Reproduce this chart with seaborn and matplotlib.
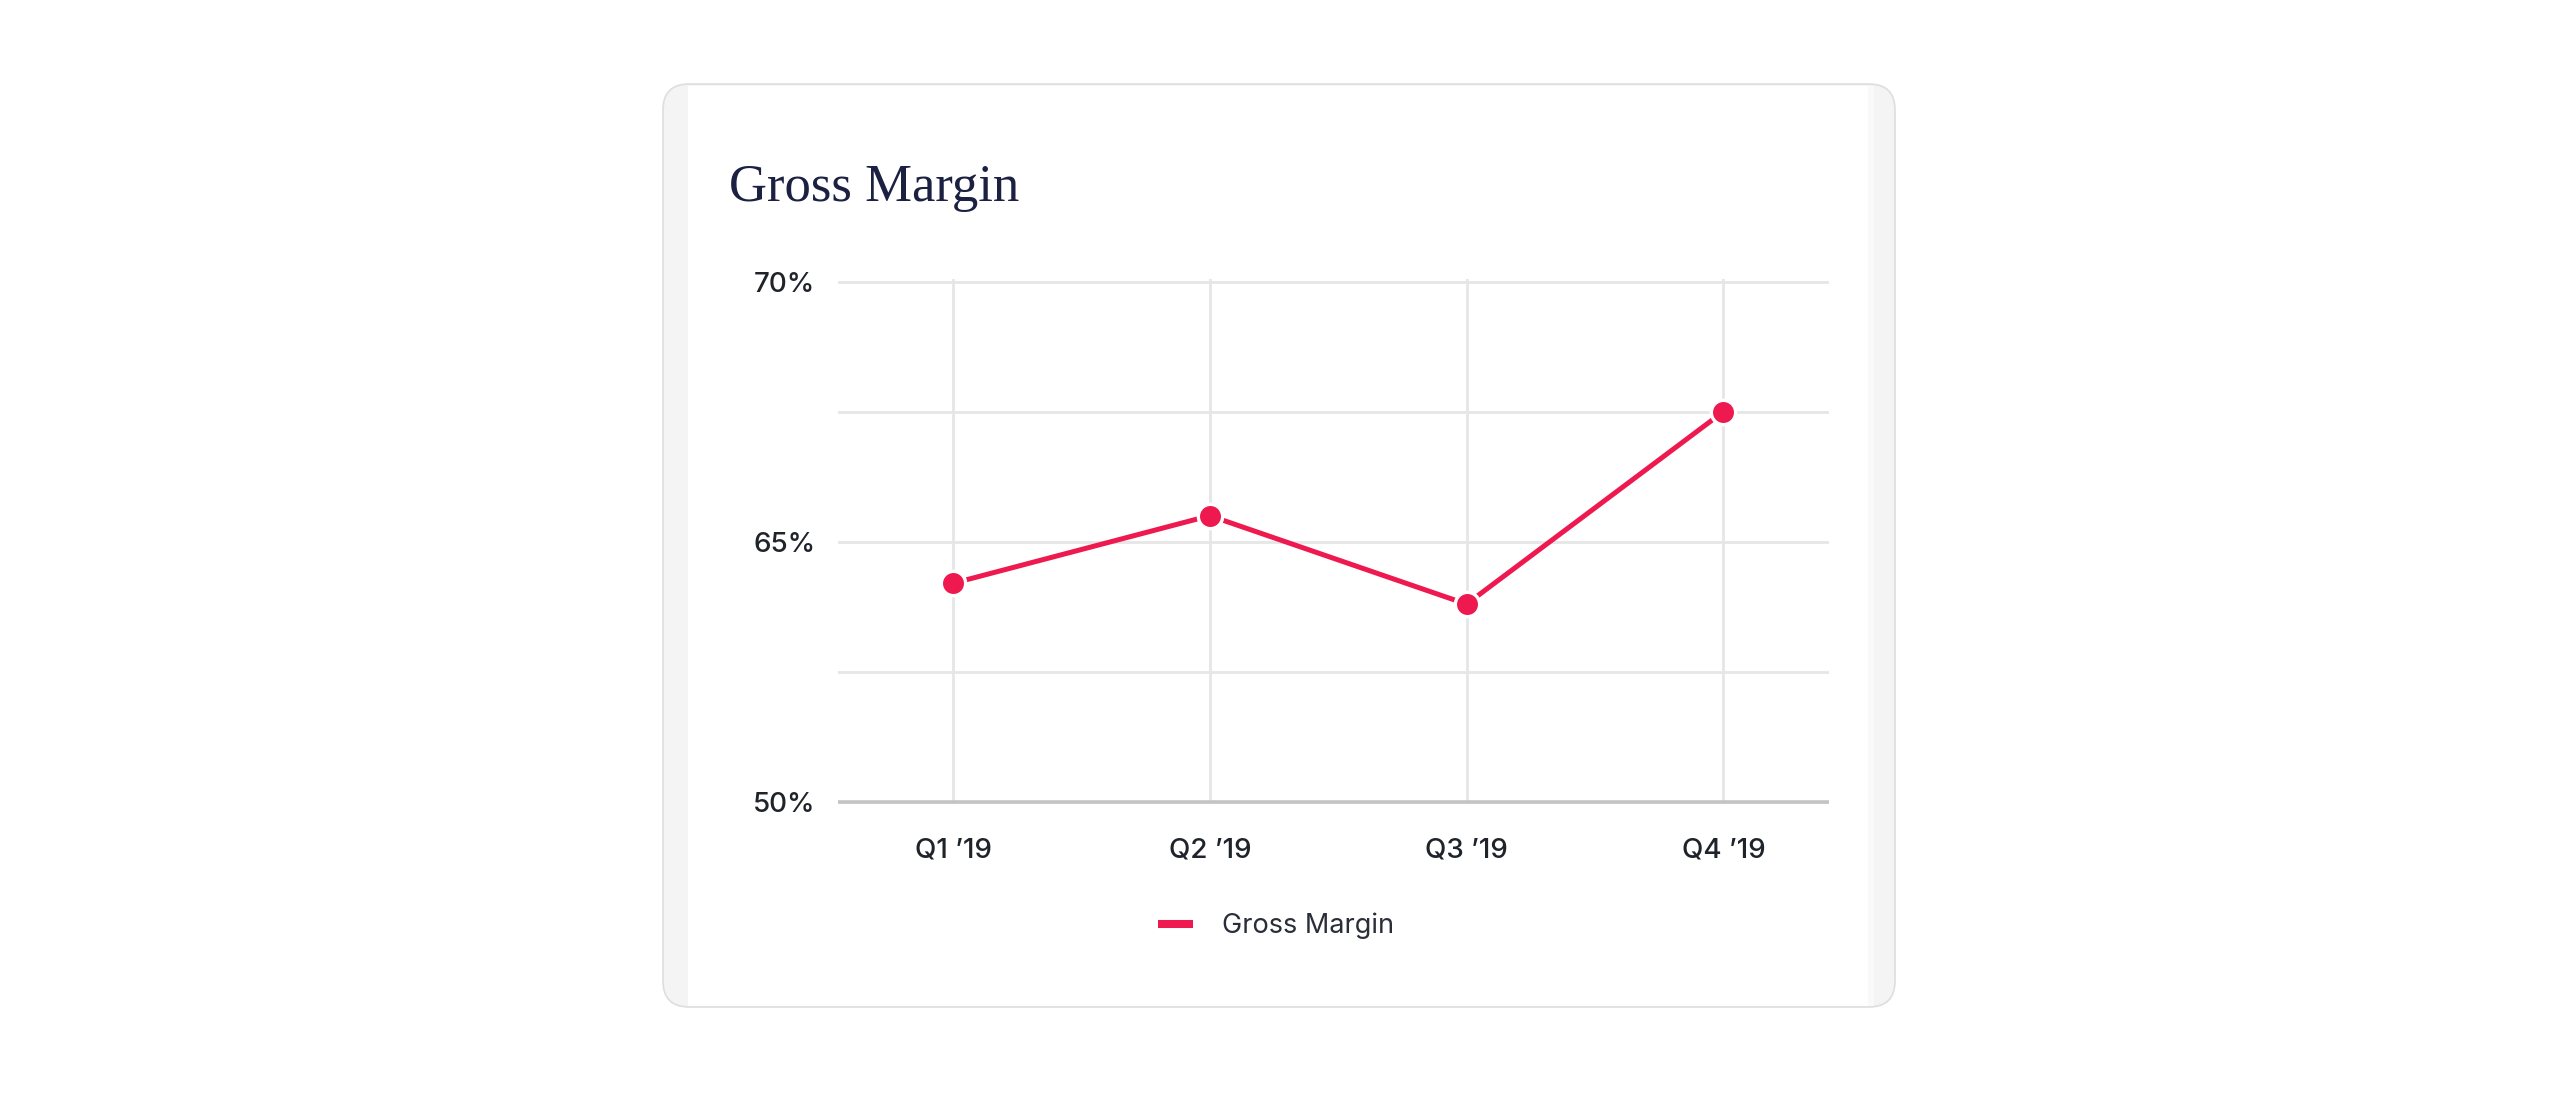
import matplotlib
matplotlib.use("Agg")
import matplotlib.pyplot as plt
from matplotlib.patches import FancyBboxPatch, Rectangle
from matplotlib.lines import Line2D
import seaborn as sns
import pandas as pd

# ---------------- data ----------------
quarters = ["Q1 \u201919", "Q2 \u201919", "Q3 \u201919", "Q4 \u201919"]
gross_margin = [64.2, 65.5, 63.8, 67.5]
y_ticks = [60, 62.5, 65, 67.5, 70]
y_tick_labels = ["50%", "", "65%", "", "70%"]
series_name = "Gross Margin"
chart_title = "Gross Margin"

# ---------------- style ----------------
RED = "#EE1A4F"
GRID = "#e6e6e6"
BASE = "#c4c4c4"
TXT = "#1f232a"
NAVY = "#1c2142"

sns.set_theme(style="white")
plt.rcParams["font.family"] = ["Inter", "DejaVu Sans"]

W, H = 2560, 1102
fig = plt.figure(figsize=(W / 100, H / 100), dpi=100)
fig.patch.set_facecolor("white")


def fx(x):
    return x / W


def fy(y):
    return 1 - y / H


# ---------------- card with soft shadow ----------------
cl, cr, ct, cb = 663, 1895, 84, 1007
for i in range(1, 31):
    pad = i * 2.4
    sh = FancyBboxPatch((cl - pad, H - cb - pad - 10), (cr - cl) + 2 * pad, (cb - ct) + 2 * pad,
                        boxstyle=f"round,pad=0,rounding_size={25 + pad}",
                        transform=None, facecolor="black", edgecolor="none",
                        alpha=0.0016, zorder=0)
    fig.add_artist(sh)

outer = FancyBboxPatch((cl, H - cb), cr - cl, cb - ct,
                       boxstyle="round,pad=0,rounding_size=26",
                       transform=None, facecolor="#f4f4f4", edgecolor="#dedede",
                       linewidth=1.2, zorder=1)
fig.add_artist(outer)
inner = Rectangle((688, H - cb + 1.5), 1868 - 688, cb - ct - 3,
                  transform=None, facecolor="white", edgecolor="none", zorder=2)
fig.add_artist(inner)
fig.add_artist(Rectangle((1868, H - cb + 1.5), 6, cb - ct - 3, transform=None,
                         facecolor="#f9f9f9", edgecolor="none", zorder=2))

# ---------------- axes ----------------
ax_l, ax_r, ax_t, ax_b = 837.5, 1828.6, 281.7, 801.7
ext = 0.05 * 52
ax = fig.add_axes([fx(ax_l), fy(ax_b + ext), fx(ax_r - ax_l), (ax_b - ax_t + 2 * ext) / H])
ax.set_zorder(5)
ax.patch.set_alpha(0)

df = pd.DataFrame({"quarter": quarters, "margin": gross_margin})
sns.lineplot(data=df, x="quarter", y="margin", ax=ax, color=RED, linewidth=3.6,
             marker="o", markersize=17.5, markeredgecolor="white", markeredgewidth=2.4,
             sort=False, legend=False, zorder=5)

ax.set_xlim(-0.45, 3.41)
ax.set_ylim(60 - 0.05, 70 + 0.05)
ax.set_yticks(y_ticks)
ax.set_yticklabels(y_tick_labels)
ax.set_xticks(range(len(quarters)))
ax.set_xticklabels(quarters)
ax.set_xlabel("")
ax.set_ylabel("")

for s in ax.spines.values():
    s.set_visible(False)
ax.grid(True, axis="both", color=GRID, linewidth=2.0, zorder=0)
ax.set_axisbelow(True)
ax.axhline(60, color=BASE, linewidth=2.6, zorder=1)

ax.tick_params(axis="y", length=0, pad=16, labelsize=20, labelcolor=TXT)
ax.tick_params(axis="x", length=0, pad=24, labelsize=20, labelcolor=TXT)
for lab in ax.get_xticklabels() + ax.get_yticklabels():
    lab.set_fontweight("medium")

# ---------------- title ----------------
fig.text(fx(729), fy(201), chart_title, fontsize=38, family=["Liberation Serif", "DejaVu Serif"],
         color=NAVY, ha="left", va="baseline", zorder=10)

# ---------------- legend ----------------
handle = Line2D([0], [0], color=RED, linewidth=5.8, solid_capstyle="butt")
leg = fig.legend(handles=[handle], labels=[series_name], loc="center",
                 bbox_to_anchor=(fx(1276), fy(926)), frameon=False,
                 fontsize=19.5, handlelength=1.3, handletextpad=1.05)
for t in leg.get_texts():
    t.set_color("#2a2e38")
leg.set_zorder(10)

fig.savefig("out.png", dpi=100, facecolor="white")
